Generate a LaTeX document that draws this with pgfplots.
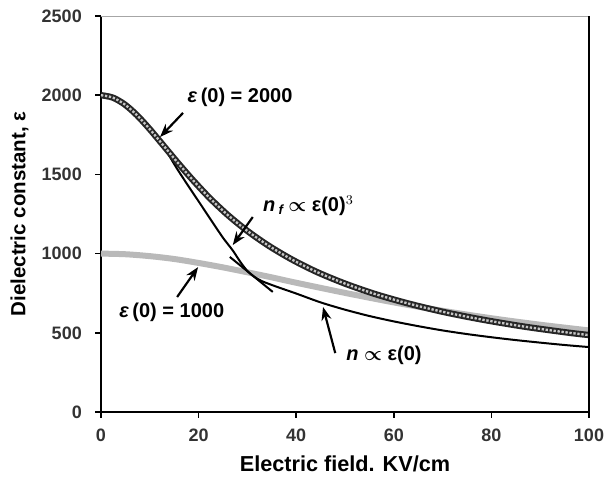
\documentclass[border=0pt]{standalone}
\usepackage{amsmath}
\usepackage{fontspec}
\setmainfont{Liberation Sans}
\usepackage{pgfplots}
\pgfplotsset{compat=1.18}
\usetikzlibrary{arrows.meta}
\begin{document}
\begin{tikzpicture}[x=1pt,y=1pt]
\begin{axis}[
  scale only axis,
  width=292.8pt, height=237.6pt,
  xmin=0, xmax=100, ymin=0, ymax=2500,
  xtick={0,20,40,60,80,100},
  ytick={0,500,1000,1500,2000,2500},
  axis x line*=bottom, axis y line*=left,
  axis line style={line width=1.3pt,-},
  tick align=outside, major tick length=3.5pt,
  tick style={line width=1pt,black},
  /pgf/number format/assume math mode=true,
  /pgf/number format/1000 sep={},
  ticklabel style={font=\fontsize{10.8}{13}\selectfont\bfseries, text=black!80},
  xticklabel style={yshift=-3pt},
  yticklabel style={xshift=-4.5pt},
  xlabel={Electric field. KV/cm},
  ylabel={Dielectric constant, ε},
  xlabel style={font=\fontsize{13}{15}\selectfont\bfseries, yshift=-1.5pt},
  ylabel style={font=\fontsize{12.3}{14}\selectfont\bfseries, yshift=1pt},
  clip=false,
]
% eps(0)=1000, thick gray
\addplot[line width=3.6pt, gray!55, smooth] coordinates {
(0,1000)(5,996)(10,984)(15,966)(20,941)(25,913)(30,882)(35,850)(40,816)(50,752)(60,692)(70,639)(80,592)(90,551)(100,515)};
% n ~ eps(0), thin black
\addplot[line width=1.2pt, black, smooth, tension=0.45] coordinates {
(0,2000)(2.4,1985)(4.85,1942)(7.36,1874)(9.98,1786)(12,1710)(13.5,1642)(15.6,1535)(18,1422)(20,1330)(22.7,1205)(25,1100)(27,1020)(28.5,950)(30,890)(31.5,852)(33,826)(35,802)(37,780)(40,748)(45,692)(50,646)(55,606)(60,572)(65,542)(70,515)(75,492)(80,472)(85,454)(90,438)(95,423)(100,410)};
% eps(0)=2000, thick dark
\addplot[line width=3.8pt, black!85, smooth] coordinates {
(0,2000)(2.41,1985)(4.85,1942)(7.36,1874)(9.98,1786)(12.75,1684)(15.70,1575)(18.86,1463)(22.27,1351)(25.97,1244)(30.0,1143)(34.39,1049)(39.17,962)(44.38,882)(50.06,810)(56.25,744)(62.98,685)(70.28,631)(78.19,583)(86.75,539)(96,500)(100,486)};
\addplot[line width=1.4pt, gray!45, densely dotted, smooth] coordinates {
(0,2000)(2.41,1985)(4.85,1942)(7.36,1874)(9.98,1786)(12.75,1684)(15.70,1575)(18.86,1463)(22.27,1351)(25.97,1244)(30.0,1143)(34.39,1049)(39.17,962)(44.38,882)(50.06,810)(56.25,744)(62.98,685)(70.28,631)(78.19,583)(86.75,539)(96,500)(100,486)};
% frame
\draw[gray!70, line width=0.6pt] (rel axis cs:0,1) -- (rel axis cs:1,1);
\draw[black, line width=1.3pt] (rel axis cs:1,0) -- (rel axis cs:1,1);
% annotations
\tikzset{ann/.style={font=\fontsize{12}{14}\selectfont\bfseries, inner sep=1pt},
         arr/.style={line width=1.3pt, -{Stealth[length=8pt,width=6pt]}}}
\node[ann] at (axis cs:28.5,1989) {\textit{ε}\,(0) = 2000};
\draw[arr] (axis cs:16.8,1888) -- (axis cs:12.1,1736);
\node[ann] at (axis cs:42.5,1300) {\textit{n}\,\textsubscript{\textit{f}}\,$\boldsymbol{\propto}$ ε(0)$^{3}$};
\draw[arr] (axis cs:31.1,1231) -- (axis cs:27,1054);
\node[ann] at (axis cs:14.5,631) {\textit{ε}\,(0) = 1000};
\draw[arr] (axis cs:15.6,726) -- (axis cs:19.9,915);
\node[ann] at (axis cs:58,360) {\textit{n} $\boldsymbol{\propto}$ ε(0)};
\draw[arr] (axis cs:48,372) -- (axis cs:45.5,663);
\draw[line width=1.2pt] (axis cs:26.4,979) -- (axis cs:35.2,758);
\end{axis}
\pgfresetboundingbox
\path (-60.6pt,-40.2pt) rectangle (303pt,247.2pt);
\end{tikzpicture}
\end{document}
